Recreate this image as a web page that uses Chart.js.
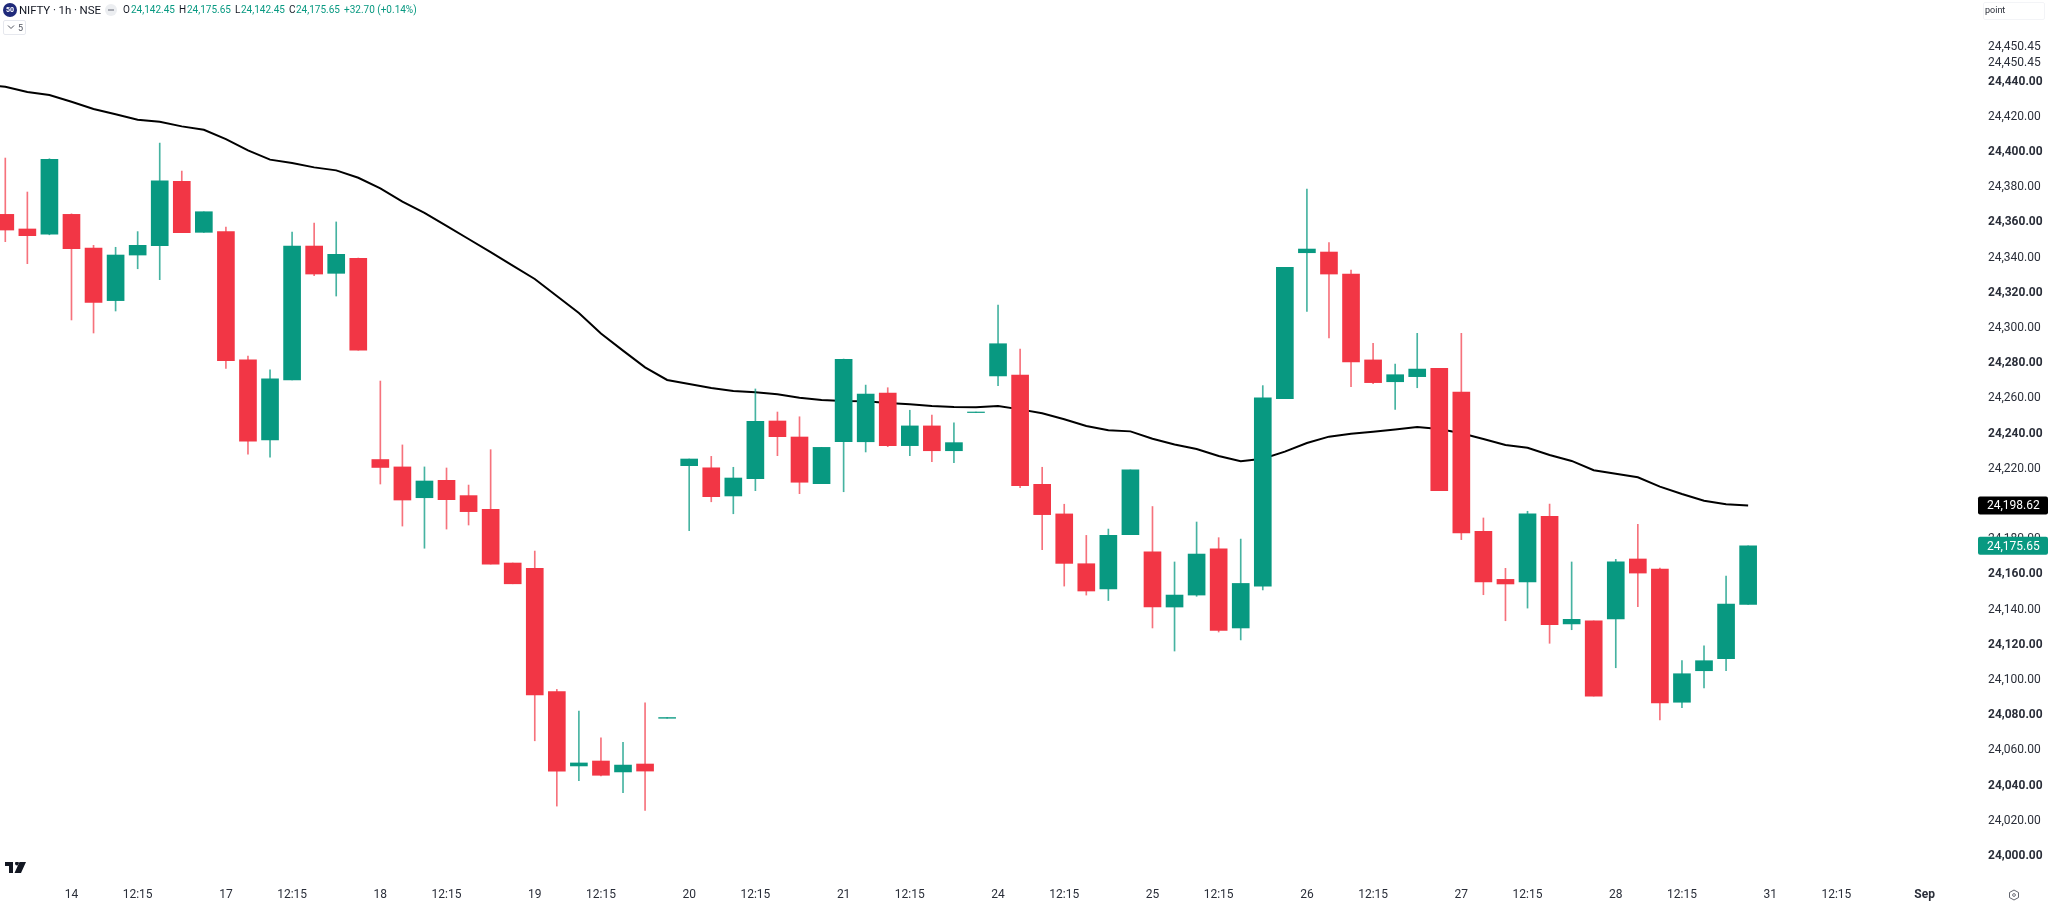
<!DOCTYPE html>
<html>
<head>
<meta charset="utf-8">
<title>NIFTY 1h</title>
<script src="https://cdn.jsdelivr.net/npm/chart.js@4"></script>
<style>
  html, body { margin: 0; padding: 0; background: #fff; width: 2048px; height: 905px; overflow: hidden; font-family: Roboto, sans-serif; color: #131722; }
  #chart { position: absolute; left: 0; top: 0; }
  .txt { position: absolute; white-space: nowrap; line-height: 14px; }
  .up { color: #089981; }
  .badge50 { position: absolute; left: 3px; top: 3px; width: 14px; height: 14px; border-radius: 50%; background: #1f2a7a; color: #fff; font-size: 7px; font-weight: 700; line-height: 14px; text-align: center; }
  .dash { position: absolute; left: 105px; top: 4px; width: 12px; height: 12px; border-radius: 50%; background: #eceef1; }
  .dash::after { content: ""; position: absolute; left: 3px; top: 5px; width: 6px; height: 2px; background: #a8abb3; }
  .fold { position: absolute; left: 3px; top: 20px; width: 21px; height: 13px; border: 1px solid #e6e8ee; border-radius: 2px; }
  .unit { position: absolute; left: 1983px; top: 2px; width: 60px; height: 16px; border: 1px solid #f3f4f7; border-radius: 2px; }
</style>
</head>
<body>
<canvas id="chart" width="2048" height="905"></canvas>

<div class="badge50">50</div>
<div class="txt" style="left:19px;top:3px;font-size:11.5px;letter-spacing:-0.1px">NIFTY · 1h · NSE</div>
<div class="dash"></div>
<div class="txt" style="left:123px;top:3px;font-size:10px">O</div>
<div class="txt up" style="left:131px;top:3px;font-size:10px">24,142.45</div>
<div class="txt" style="left:179px;top:3px;font-size:10px">H</div>
<div class="txt up" style="left:187px;top:3px;font-size:10px">24,175.65</div>
<div class="txt" style="left:235px;top:3px;font-size:10px">L</div>
<div class="txt up" style="left:241px;top:3px;font-size:10px">24,142.45</div>
<div class="txt" style="left:289px;top:3px;font-size:10px">C</div>
<div class="txt up" style="left:296px;top:3px;font-size:10px">24,175.65</div>
<div class="txt up" style="left:344px;top:3px;font-size:10px">+32.70 (+0.14%)</div>

<div class="fold"></div>
<svg style="position:absolute;left:7px;top:24px" width="8" height="6"><path d="M1 1.5 L4 4.5 L7 1.5" fill="none" stroke="#50535e" stroke-width="1"/></svg>
<div class="txt" style="left:18px;top:21px;font-size:9px;color:#50535e">5</div>

<div class="unit"></div>
<div class="txt" style="left:1985px;top:3px;font-size:9px;color:#2a2e39">point</div>

<svg style="position:absolute;left:5px;top:862px" width="21" height="11" viewBox="0 0 21 11">
  <path d="M0 0H8V11H4V4H0Z M12 3.5A2 2 0 1 0 12 -0.5A2 2 0 1 0 12 3.5Z M14.5 0H21L16 11H9.5Z" fill="#131722"/>
</svg>
<svg style="position:absolute;left:2008px;top:889px" width="12" height="12" viewBox="0 0 12 12">
  <path d="M6 1 L10.5 3.5 V8.5 L6 11 L1.5 8.5 V3.5Z" fill="none" stroke="#50535e" stroke-width="0.9"/>
  <circle cx="6" cy="6" r="1.4" fill="none" stroke="#50535e" stroke-width="0.8"/>
</svg>

<script>
const opens = [
  24364.0, 24355.7, 24352.7, 24364.0, 24344.9, 24315.0, 24340.9, 24346.2, 24382.8, 24353.8,
  24354.2, 24281.3, 24235.8, 24269.9, 24346.0, 24330.5, 24339.0, 24224.7, 24220.5, 24203.0,
  24212.9, 24204.2, 24196.4, 24165.9, 24162.9, 24092.8, 24050.6, 24053.4, 24047.2, 24051.7,
  24077.7, 24221.2, 24220.0, 24204.0, 24213.8, 24246.6, 24237.5, 24211.0, 24234.8, 24234.8,
  24262.5, 24232.6, 24243.8, 24229.7, 24251.4, 24272.2, 24272.7, 24210.6, 24193.8, 24165.5,
  24151.2, 24182.0, 24172.2, 24140.9, 24147.7, 24173.9, 24129.0, 24152.8, 24259.3, 24342.2,
  24342.6, 24330.1, 24281.3, 24268.9, 24271.8, 24276.5, 24263.0, 24183.9, 24156.6, 24155.1,
  24192.4, 24131.3, 24133.0, 24134.1, 24168.2, 24162.5, 24086.8, 24104.7, 24111.5, 24142.45
];
const highs = [
  24396.0, 24376.7, 24395.6, 24364.3, 24346.4, 24345.3, 24354.2, 24404.5, 24388.6, 24365.5,
  24356.8, 24283.5, 24275.6, 24354.0, 24359.1, 24359.7, 24339.2, 24269.3, 24233.0, 24220.5,
  24219.9, 24210.2, 24230.3, 24165.9, 24172.7, 24094.1, 24081.8, 24066.6, 24064.0, 24086.5,
  24078.1, 24225.0, 24226.5, 24220.3, 24264.8, 24251.7, 24249.0, 24231.6, 24281.8, 24267.0,
  24265.5, 24252.7, 24250.0, 24245.5, 24251.7, 24312.5, 24287.5, 24220.3, 24199.3, 24181.6,
  24185.2, 24218.8, 24198.0, 24166.5, 24189.2, 24180.3, 24179.5, 24266.7, 24333.9, 24378.4,
  24347.9, 24332.4, 24290.7, 24279.0, 24296.4, 24276.5, 24296.4, 24191.5, 24162.9, 24195.3,
  24199.4, 24166.5, 24133.0, 24168.0, 24187.9, 24163.0, 24110.4, 24118.8, 24158.5, 24175.65
];
const lows = [
  24348.5, 24336.0, 24352.4, 24304.0, 24296.6, 24309.1, 24333.1, 24326.9, 24353.6, 24353.8,
  24276.5, 24227.8, 24226.1, 24269.9, 24329.2, 24317.6, 24286.8, 24210.8, 24186.9, 24174.3,
  24185.2, 24187.5, 24165.3, 24154.1, 24064.9, 24027.8, 24042.2, 24044.9, 24035.4, 24025.4,
  24077.7, 24184.3, 24200.7, 24193.9, 24207.0, 24226.9, 24205.3, 24211.0, 24206.4, 24229.0,
  24232.0, 24226.9, 24223.5, 24222.9, 24251.4, 24266.6, 24208.7, 24173.5, 24152.8, 24147.7,
  24144.6, 24182.0, 24129.0, 24115.9, 24147.0, 24126.7, 24122.2, 24150.6, 24259.3, 24308.9,
  24293.8, 24266.1, 24267.8, 24253.2, 24265.5, 24207.0, 24179.2, 24147.9, 24133.1, 24140.3,
  24120.3, 24128.0, 24090.3, 24106.4, 24141.1, 24076.7, 24083.7, 24095.0, 24104.7, 24142.45
];
const closes = [
  24355.1, 24351.9, 24395.3, 24344.5, 24314.0, 24340.9, 24346.4, 24383.0, 24353.6, 24365.5,
  24280.9, 24235.2, 24270.5, 24346.0, 24330.1, 24341.3, 24286.8, 24220.2, 24201.7, 24212.5,
  24201.9, 24195.1, 24165.3, 24154.1, 24090.9, 24047.7, 24052.3, 24045.3, 24051.1, 24047.7,
  24078.1, 24225.0, 24203.6, 24214.2, 24246.4, 24237.7, 24211.8, 24231.6, 24281.6, 24261.9,
  24232.6, 24243.8, 24229.7, 24234.3, 24251.7, 24290.5, 24209.8, 24193.4, 24165.7, 24150.0,
  24181.6, 24218.8, 24140.9, 24147.7, 24171.0, 24127.6, 24154.3, 24259.7, 24333.9, 24344.3,
  24330.1, 24280.1, 24268.4, 24272.9, 24276.1, 24207.0, 24183.0, 24155.1, 24154.0, 24193.8,
  24130.9, 24133.9, 24090.3, 24166.6, 24160.2, 24086.4, 24103.0, 24110.4, 24142.6, 24175.65
];
// first value sits one bar left of the view so the line runs in from the edge
const maValues = [
  24438.0,
  24436.5, 24433.5, 24431.8, 24428.0, 24423.9, 24420.9, 24417.8, 24416.6, 24414.0, 24412.1,
  24406.8, 24400.4, 24395.1, 24393.2, 24390.7, 24389.0, 24384.8, 24378.8, 24371.2, 24364.8,
  24357.4, 24350.0, 24342.6, 24334.9, 24327.3, 24317.6, 24308.0, 24296.3, 24286.6, 24277.1,
  24269.9, 24267.6, 24265.3, 24263.6, 24262.9, 24261.8, 24259.8, 24258.5, 24258.0, 24257.8,
  24256.8, 24256.1, 24255.1, 24254.5, 24254.4, 24255.1, 24253.2, 24251.0, 24247.6, 24243.8,
  24241.3, 24240.7, 24236.5, 24233.2, 24230.7, 24226.7, 24223.7, 24225.2, 24229.2, 24234.1,
  24237.7, 24239.4, 24240.5, 24241.8, 24243.2, 24242.0, 24239.6, 24236.4, 24233.0, 24231.4,
  24227.3, 24223.9, 24218.6, 24216.6, 24214.6, 24209.3, 24205.1, 24201.3, 24199.3, 24198.62
];

const xTickBars = [3, 6, 10, 13, 17, 20, 24, 27, 31, 34, 38, 41, 45, 48, 52, 55, 59, 62, 66, 69, 73, 76, 80, 83, 87];
const xTickLabels = ['14', '12:15', '17', '12:15', '18', '12:15', '19', '12:15', '20', '12:15', '21', '12:15', '24', '12:15', '25', '12:15', '26', '12:15', '27', '12:15', '28', '12:15', '31', '12:15', 'Sep'];

const yTickValues = [
  24000, 24020, 24040, 24060, 24080, 24100, 24120, 24140, 24160, 24180, 24200, 24220,
  24240, 24260, 24280, 24300, 24320, 24340, 24360, 24380, 24400, 24420, 24440, 24450.45, 24459.5
];
const yTickLabels = [
  '24,000.00', '24,020.00', '24,040.00', '24,060.00', '24,080.00', '24,100.00', '24,120.00', '24,140.00',
  '24,160.00', '24,180.00', '24,200.00', '24,220.00', '24,240.00', '24,260.00', '24,280.00', '24,300.00',
  '24,320.00', '24,340.00', '24,360.00', '24,380.00', '24,400.00', '24,420.00', '24,440.00', '24,450.45', '24,450.45'
];

const lastMa = 24198.62;
const lastClose = 24175.65;

const GREEN = '#089981';
const RED = '#F23645';
const candleColor = opens.map((o, i) => (closes[i] >= o ? GREEN : RED));
const wickColor = opens.map((o, i) => (closes[i] >= o ? 'rgba(8,153,129,0.75)' : 'rgba(242,54,69,0.7)'));

const priceBadges = {
  id: 'priceBadges',
  afterDraw(chart) {
    const { ctx, scales } = chart;
    const draw = (value, fill) => {
      const y = scales.y.getPixelForValue(value);
      ctx.save();
      ctx.fillStyle = fill;
      ctx.beginPath();
      ctx.roundRect(1978, y - 9, 70, 18, 2);
      ctx.fill();
      ctx.fillStyle = '#fff';
      ctx.font = '12px Roboto';
      ctx.textBaseline = 'middle';
      ctx.fillText(value.toLocaleString('en-US', { minimumFractionDigits: 2 }), 1987, y + 1);
      ctx.restore();
    };
    draw(lastMa, '#000');
    draw(lastClose, GREEN);
  },
};

new Chart(document.getElementById('chart'), {
  type: 'bar',
  data: {
    datasets: [
      {
        label: 'body',
        order: 1,
        grouped: false,
        barThickness: 17,
        data: opens.map((o, i) => ({ x: i, y: [o, closes[i]] })),
        backgroundColor: candleColor,
      },
      {
        label: 'wick',
        order: 2,
        grouped: false,
        barThickness: 1,
        data: lows.map((l, i) => ({ x: i, y: [l, highs[i]] })),
        backgroundColor: wickColor,
      },
      {
        type: 'line',
        label: 'MA',
        order: 3,
        data: maValues.map((v, i) => ({ x: i - 1, y: v })),
        borderColor: '#000',
        borderWidth: 2,
        pointRadius: 0,
        tension: 0,
      },
    ],
  },
  options: {
    responsive: false,
    animation: false,
    devicePixelRatio: 1,
    layout: { padding: 0 },
    plugins: { legend: { display: false }, tooltip: { enabled: false } },
    scales: {
      x: {
        type: 'linear',
        offset: false,
        min: -0.24,
        max: 89.51,
        grid: { display: false, drawTicks: false, offset: false },
        border: { display: false },
        afterBuildTicks(scale) { scale.ticks = xTickBars.map(v => ({ value: v })); },
        afterFit(scale) {
          scale.height = 25;
          scale.paddingLeft = 0;
          scale.paddingRight = 0;
        },
        ticks: {
          autoSkip: false,
          maxRotation: 0,
          padding: 8,
          color: '#2a2e39',
          font: ctx => ({ family: 'Roboto', size: 12, weight: ctx.index === xTickLabels.length - 1 ? '700' : '400' }),
          callback: (v, i) => xTickLabels[i],
        },
      },
      y: {
        type: 'linear',
        position: 'right',
        min: 23985.8,
        max: 24485.8,
        grid: { display: false, drawTicks: false },
        border: { display: false },
        afterBuildTicks(scale) { scale.ticks = yTickValues.map(v => ({ value: v })); },
        afterFit(scale) {
          scale.width = 68;
          scale.paddingTop = 0;
          scale.paddingBottom = 0;
        },
        ticks: {
          autoSkip: false,
          crossAlign: 'near',
          padding: 8,
          labelOffset: 1,
          color: '#2a2e39',
          font: ctx => ({ family: 'Roboto', size: 12, weight: ctx.tick && ctx.tick.value % 40 === 0 ? '700' : '400' }),
          callback: (v, i) => yTickLabels[i],
        },
      },
    },
  },
  plugins: [priceBadges],
});
</script>
</body>
</html>
